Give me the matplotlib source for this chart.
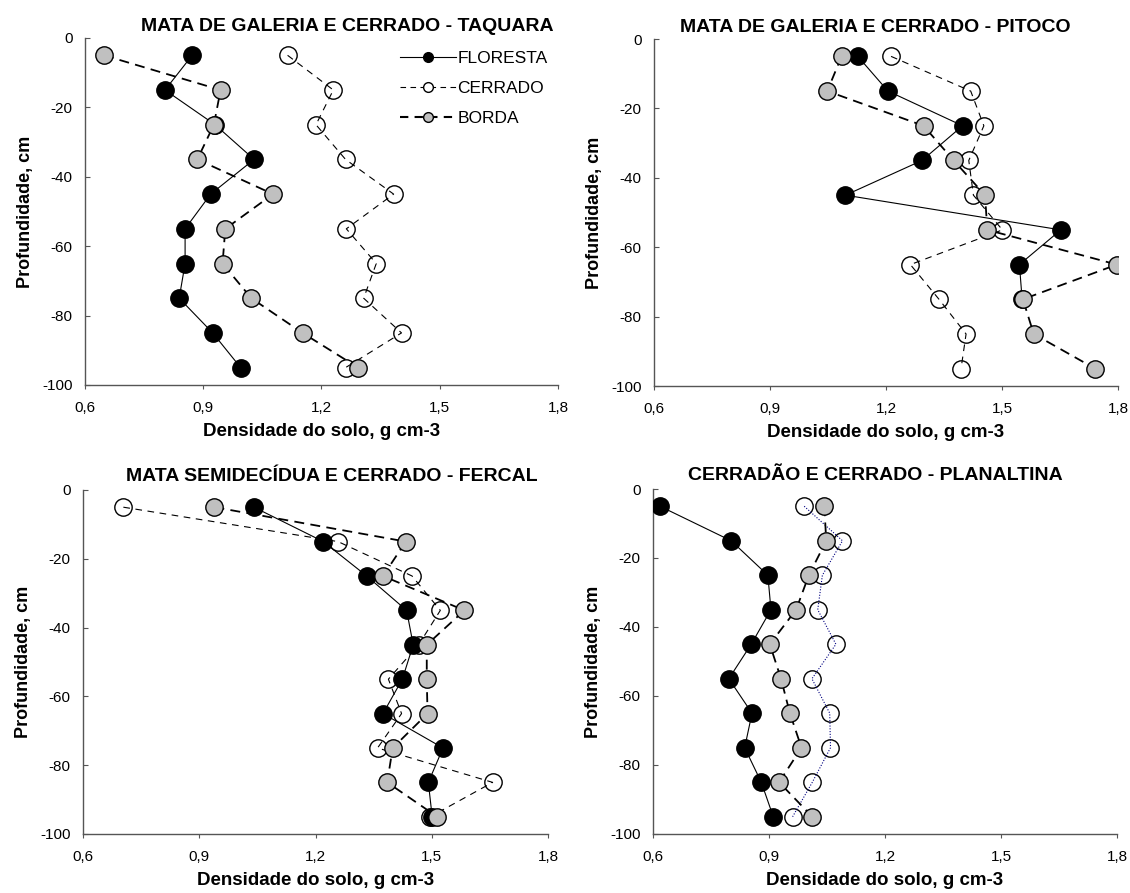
import numpy as np
import matplotlib
matplotlib.use('Agg')
import matplotlib.pyplot as plt
from matplotlib.ticker import FuncFormatter

plt.rcParams['font.family'] = ['Liberation Sans', 'DejaVu Sans']

depth = [-5, -15, -25, -35, -45, -55, -65, -75, -85, -95]
nan = np.nan

# Taquara
taq_floresta = [0.872, 0.803, 0.930, 1.029, 0.919, 0.854, 0.854, 0.839, 0.924, 0.995]
taq_cerrado = [1.114, 1.230, 1.186, 1.261, 1.383, 1.263, 1.339, 1.307, 1.403, 1.261]
taq_borda = [0.648, 0.944, 0.927, 0.885, 1.077, 0.956, 0.949, 1.022, 1.152, 1.293]

# Pitoco
pit_floresta = [1.127, 1.205, 1.398, 1.293, 1.095, 1.652, 1.545, 1.552, nan, nan]
pit_cerrado = [1.213, 1.419, 1.453, 1.414, 1.426, 1.501, 1.263, 1.337, 1.407, 1.394]
pit_borda = [1.085, 1.048, 1.297, 1.375, 1.456, 1.462, 1.797, 1.554, 1.582, 1.741]

# Fercal
fer_floresta = [1.041, 1.220, 1.332, 1.435, 1.452, 1.424, 1.374, 1.529, 1.491, 1.501]
fer_cerrado = [0.704, 1.258, 1.449, 1.522, 1.466, 1.388, 1.422, 1.360, 1.657, 1.496]
fer_borda = [0.939, 1.433, 1.374, 1.584, 1.487, 1.487, 1.489, 1.399, 1.385, 1.514]

# Planaltina
pla_floresta = [0.618, 0.802, 0.897, 0.905, 0.854, 0.796, 0.856, 0.837, 0.880, 0.911]
pla_cerrado = [0.991, 1.090, 1.038, 1.026, 1.073, 1.011, 1.057, 1.059, 1.012, 0.961]
pla_borda = [1.043, 1.048, 1.003, 0.970, 0.902, 0.931, 0.954, 0.984, 0.926, 1.012]

titles = ['MATA DE GALERIA E CERRADO - TAQUARA', 'MATA DE GALERIA E CERRADO - PITOCO',
          'MATA SEMIDECÍDUA E CERRADO - FERCAL', 'CERRADÃO E CERRADO - PLANALTINA']
panels = [(taq_floresta, taq_cerrado, taq_borda),
          (pit_floresta, pit_cerrado, pit_borda),
          (fer_floresta, fer_cerrado, fer_borda),
          (pla_floresta, pla_cerrado, pla_borda)]

fig = plt.figure(figsize=(11.3, 8.93), dpi=100)
rects = [[0.0752, 0.5689, 0.4186, 0.3886], [0.5788, 0.5677, 0.4106, 0.3886],
         [0.0735, 0.0661, 0.4115, 0.3852], [0.5779, 0.0661, 0.4106, 0.3863]]
title_x = [0.555, 0.477, 0.536, 0.48]
title_y = [1.02, 1.02, 1.026, 1.026]

ms = 12.5
for i, (rect, title, (flo, cer, bor)) in enumerate(zip(rects, titles, panels)):
    ax = fig.add_axes(rect)
    cer_color = 'navy' if i == 3 else 'black'
    cer_ls = (0, (1, 1.5)) if i == 3 else (0, (6, 5))
    # cerrado markers, then its line on top (as in the original)
    ax.plot(cer, depth, linestyle='None', marker='o', ms=ms, mfc='white',
            mec='black', mew=1, zorder=2)
    ax.plot(cer, depth, color=cer_color, lw=0.8, linestyle=cer_ls, zorder=2.5)
    ax.plot(flo, depth, color='black', lw=0.8, marker='o', ms=ms, mfc='black',
            mec='black', zorder=3, label='FLORESTA')
    ax.plot(bor, depth, color='black', lw=1.3, linestyle=(0, (5.5, 3.5)), marker='o',
            ms=ms, mfc='#c0c0c0', mec='black', mew=1, zorder=4, label='BORDA')

    ax.set_xlim(0.6, 1.8)
    ax.set_ylim(-100, 0)
    ax.set_xticks([0.6, 0.9, 1.2, 1.5, 1.8])
    ax.set_yticks([0, -20, -40, -60, -80, -100])
    ax.xaxis.set_major_formatter(FuncFormatter(lambda v, p: f'{v:.1f}'.replace('.', ',')))
    ax.yaxis.set_major_formatter(FuncFormatter(lambda v, p: f'{v:.0f}'))
    ax.spines['top'].set_visible(False)
    ax.spines['right'].set_visible(False)
    for sp in ('left', 'bottom'):
        ax.spines[sp].set_color('#555555')
        ax.spines[sp].set_linewidth(1)
    ax.tick_params(axis='x', direction='out', length=3, pad=8.5, labelsize=11,
                   colors='#555555', labelcolor='black')
    ax.tick_params(axis='y', direction='in', length=3.5, pad=9, labelsize=11,
                   colors='#555555', labelcolor='black')
    ax.set_xlabel('Densidade do solo, g cm-3', fontsize=13.5, fontweight='bold', labelpad=6)
    ax.set_ylabel('Profundidade, cm', fontsize=13, fontweight='bold', labelpad=6)
    ax.text(title_x[i], title_y[i], title, transform=ax.transAxes, ha='center',
            va='baseline', fontsize=14, fontweight='bold')

    if i == 0:
        h_flo = plt.Line2D([], [], color='black', lw=0.8, marker='o', ms=7,
                           mfc='black', mec='black')
        h_cer = plt.Line2D([], [], color='black', lw=0.8, linestyle=(0, (5, 4)),
                           marker='o', ms=7, mfc='white', mec='black')
        h_bor = plt.Line2D([], [], color='black', lw=1.5, linestyle=(0, (4, 3)),
                           marker='o', ms=7, mfc='#c0c0c0', mec='black')
        ax.legend([h_flo, h_cer, h_bor], ['FLORESTA', 'CERRADO', 'BORDA'],
                  loc='upper left', bbox_to_anchor=(0.666, 0.963), frameon=False,
                  fontsize=12.5, handlelength=3.2, handletextpad=0.1,
                  labelspacing=0.85, borderaxespad=0, borderpad=0)

fig.savefig('out.png', dpi=100)
